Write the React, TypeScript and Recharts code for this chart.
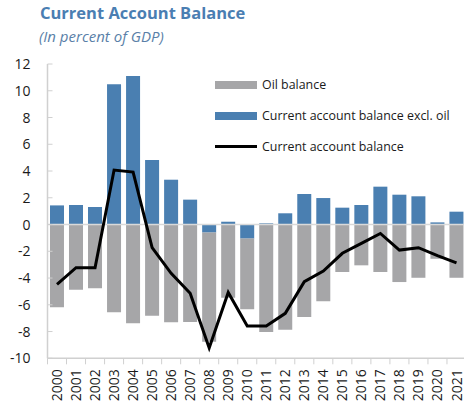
import React from "react";
import {
  ComposedChart,
  Bar,
  Line,
  XAxis,
  YAxis,
  ReferenceLine,
} from "recharts";

const years = [
  "2000", "2001", "2002", "2003", "2004", "2005", "2006", "2007", "2008", "2009", "2010",
  "2011", "2012", "2013", "2014", "2015", "2016", "2017", "2018", "2019", "2020", "2021",
];

const oilBalance = [
  -6.19, -4.87, -4.77, -6.56, -7.38, -6.82, -7.31, -7.29, -8.16, -5.47, -5.29,
  -8.03, -7.86, -6.91, -5.74, -3.55, -3.05, -3.55, -4.3, -3.98, -2.56, -3.98,
];

const nonOilBalance = [
  1.43, 1.46, 1.31, 10.48, 11.1, 4.82, 3.35, 1.86, -0.6, 0.21, -1.05,
  0.09, 0.84, 2.28, 1.98, 1.26, 1.46, 2.83, 2.23, 2.11, 0.16, 0.96,
];

const currentAccount = [
  -4.47, -3.23, -3.23, 4.07, 3.92, -1.73, -3.65, -5.14, -9.23, -5.08, -7.59,
  -7.59, -6.64, -4.27, -3.48, -2.15, -1.41, -0.67, -1.91, -1.73, -2.33, -2.86,
];

const yTicks = [-10, -8, -6, -4, -2, 0, 2, 4, 6, 8, 10, 12];

const BLUE = "#4a7fb1";
const GREY = "#a6a6a8";
const AXIS = "#d0d0d0";
const FONT = "'Open Sans', 'Noto Sans', sans-serif";

const CHART_W = 466;
const CHART_H = 406;
const Y_AXIS_W = 47.5;
const BAND = (CHART_W - Y_AXIS_W) / years.length;

const data = years.map((year, i) => ({
  year,
  oil: oilBalance[i],
  nonOil: nonOilBalance[i],
  ca: currentAccount[i],
}));

const legendItems = [
  { label: "Oil balance", color: GREY, kind: "bar" },
  { label: "Current account balance excl. oil", color: BLUE, kind: "bar" },
  { label: "Current account balance", color: "#000", kind: "line" },
];

const YTick = ({ x, y, payload }: any) => (
  <g>
    <line x1={x} x2={x + 5} y1={y} y2={y} stroke={AXIS} strokeWidth={1} />
    <text x={x - 17} y={y} dy="0.36em" textAnchor="end" fontSize={14} fill="#1a1a1a" fontFamily={FONT}>
      {payload.value}
    </text>
  </g>
);

const XTick = ({ x, y, payload }: any) => (
  <g>
    <line x1={x - BAND / 2} x2={x - BAND / 2} y1={y} y2={y + 6} stroke={AXIS} strokeWidth={1} />
    <text
      x={x}
      y={y + 11}
      dy="0.36em"
      textAnchor="end"
      transform={`rotate(-90, ${x}, ${y + 11})`}
      fontSize={14}
      fill="#1a1a1a"
      fontFamily={FONT}
    >
      {payload.value}
    </text>
  </g>
);

// legend drawn as html so it doesn't eat plot space
const ChartLegend = () => (
  <div style={{ position: "absolute", left: 215, top: 69, fontFamily: FONT, fontSize: 12.4, color: "#1a1a1a" }}>
    {legendItems.map((item) => (
      <div key={item.label} style={{ display: "flex", alignItems: "center", height: 31 }}>
        <span
          style={{
            display: "inline-block",
            width: 42,
            height: item.kind === "bar" ? 8 : 3,
            background: item.color,
            marginRight: 5,
          }}
        />
        <span style={{ whiteSpace: "nowrap" }}>{item.label}</span>
      </div>
    ))}
  </div>
);

export default function App() {
  return (
    <div style={{ position: "absolute", left: 0, top: 0, width: 464, height: 406, overflow: "hidden", background: "#fff" }}>
      <div
        style={{
          position: "absolute",
          left: 40,
          top: 1,
          fontFamily: FONT,
          fontWeight: 700,
          fontSize: 16.5,
          color: "#4a7eb2",
          whiteSpace: "nowrap",
        }}
      >
        Current Account Balance
      </div>
      <div
        style={{
          position: "absolute",
          left: 39,
          top: 25.5,
          fontFamily: FONT,
          fontStyle: "italic",
          fontSize: 15,
          color: "#5a7fa8",
          whiteSpace: "nowrap",
        }}
      >
        (In percent of GDP)
      </div>
      <ComposedChart
        width={CHART_W}
        height={CHART_H}
        data={data}
        stackOffset="sign"
        barCategoryGap="13%"
        margin={{ top: 64, right: 0, bottom: 0, left: 0 }}
      >
        <XAxis
          dataKey="year"
          interval={0}
          height={47.7}
          tickSize={0}
          tickMargin={0}
          tickLine={false}
          axisLine={{ stroke: AXIS, strokeWidth: 1.5 }}
          tick={<XTick />}
        />
        <YAxis
          domain={[-10, 12]}
          ticks={yTicks}
          interval={0}
          width={Y_AXIS_W}
          tickSize={0}
          tickMargin={0}
          tickLine={false}
          axisLine={{ stroke: AXIS, strokeWidth: 1.5 }}
          tick={<YTick />}
        />
        <Bar dataKey="nonOil" stackId="a" fill={BLUE} isAnimationActive={false} />
        <Bar dataKey="oil" stackId="a" fill={GREY} isAnimationActive={false} />
        <ReferenceLine y={0} stroke="#d9d9d9" strokeWidth={1.5} />
        <Line
          type="linear"
          dataKey="ca"
          stroke="#000"
          strokeWidth={3}
          dot={false}
          isAnimationActive={false}
        />
      </ComposedChart>
      <ChartLegend />
    </div>
  );
}
